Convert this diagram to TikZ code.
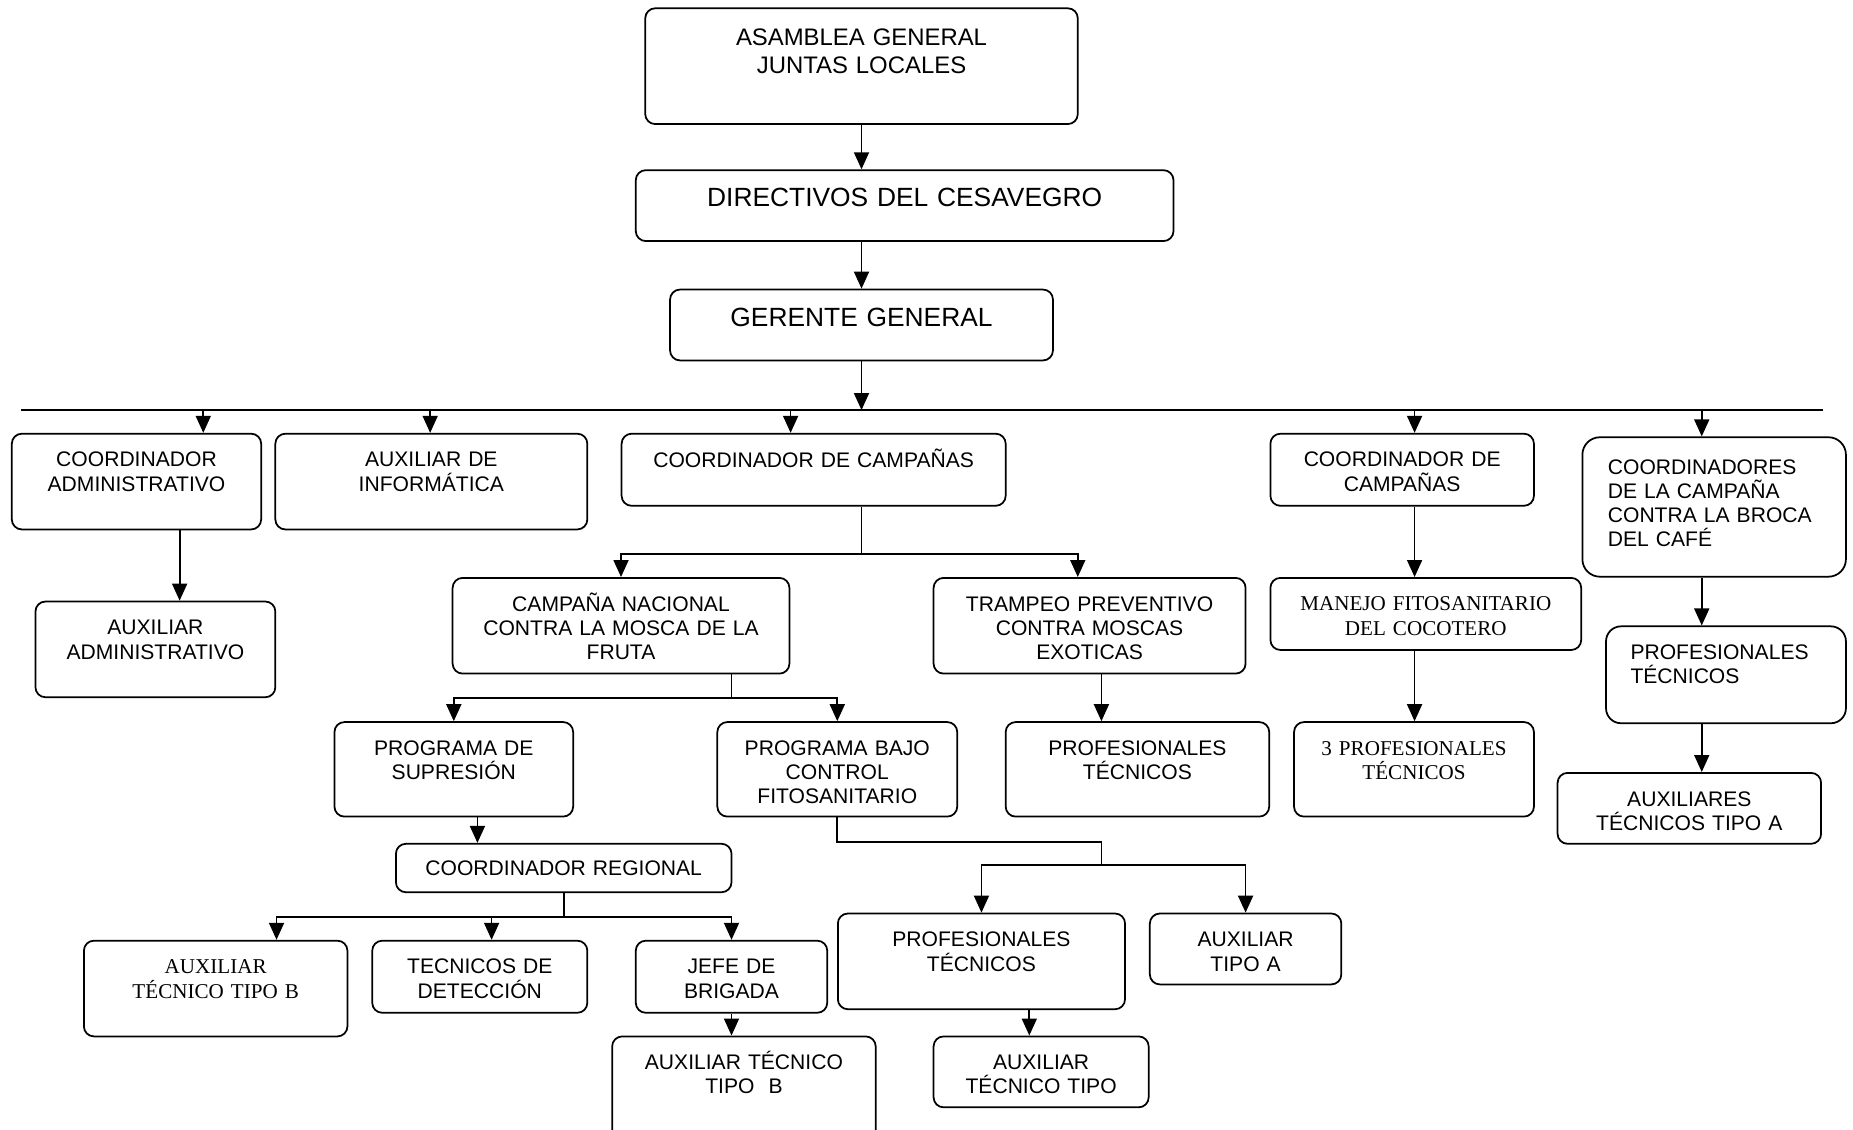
\documentclass[tikz,border=0pt]{standalone}
\usepackage{fontspec}
\setmainfont{Liberation Sans}
\newfontfamily\timesrm{Liberation Serif}
\usetikzlibrary{arrows.meta, fit}

\begin{document}
\begin{tikzpicture}[
    x=0.23636mm, y=-0.23636mm,
    box/.style={draw, line width=0.35mm, rounded corners=2mm, inner sep=0pt},
    txt/.style={anchor=north, text width=85mm, align=center, inner sep=0pt, yshift=-3.1mm,
      font=\fontsize{12}{13.8}\selectfont, execute at begin node=\vphantom{É}},
    txtl/.style={txt, anchor=north west, align=left},
    big/.style={font=\fontsize{15}{18}\selectfont, yshift=0.25mm},
    serif/.style={font=\timesrm\fontsize{12}{13.8}\selectfont},
    arrow/.style={-{Triangle[length=3.4mm, width=3mm]}, line width=0.35mm},
    link/.style={line width=0.35mm}
  ]
  \useasboundingbox (0,0) rectangle (1568,956);

  % direccion
  \node[box, fit={(546,7) (912,105)}, label={[txt, font=\fontsize{13.6}{16.1}\selectfont, yshift=-0.3mm]north:ASAMBLEA GENERAL\\JUNTAS LOCALES}] (asamblea) {};
  \node[box, fit={(538,144) (993,204)}, label={[txt, big]north:DIRECTIVOS DEL CESAVEGRO}] (directivos) {};
  \node[box, fit={(567,245) (891,305)}, label={[txt, big]north:GERENTE GENERAL}] (gerente) {};

  % primer nivel
  \node[box, fit={(10,367) (221,448)}, label={[txt]north:COORDINADOR\\ADMINISTRATIVO}] (coordadm) {};
  \node[box, fit={(233,367) (497,448)}, label={[txt]north:AUXILIAR DE\\INFORMÁTICA}] (auxinfo) {};
  \node[box, fit={(526,367) (851,428)}, label={[txt]north:COORDINADOR DE CAMPAÑAS}] (coordcamp) {};
  \node[box, fit={(1075,367) (1298,428)}, label={[txt]north:COORDINADOR DE\\CAMPAÑAS}] (coordcoco) {};
  \node[box, rounded corners=3.5mm, fit={(1339,370) (1562,488)}, label={[txtl, xshift=5.2mm, yshift=-0.7mm]north west:COORDINADORES\\DE LA CAMPAÑA\\CONTRA LA BROCA\\DEL CAFÉ}] (coordbroca) {};

  % segundo nivel
  \node[box, fit={(30,509) (233,590)}, label={[txt]north:AUXILIAR\\ADMINISTRATIVO}] (auxadm) {};
  \node[box, fit={(383,489) (668,570)}, label={[txt]north:CAMPAÑA NACIONAL\\CONTRA LA MOSCA DE LA\\FRUTA}] (mosca) {};
  \node[box, fit={(790,489) (1054,570)}, label={[txt]north:TRAMPEO PREVENTIVO\\CONTRA MOSCAS\\EXOTICAS}] (trampeo) {};
  \node[box, fit={(1075,489) (1338,550)}, label={[txt, serif]north:MANEJO FITOSANITARIO\\DEL COCOTERO}] (cocotero) {};
  \node[box, rounded corners=3mm, fit={(1359,530) (1562,612)}, label={[txtl, xshift=5mm]north west:PROFESIONALES\\TÉCNICOS}] (profbroca) {};

  % tercer nivel
  \node[box, fit={(283,611) (485,691)}, label={[txt]north:PROGRAMA DE\\SUPRESIÓN}] (supresion) {};
  \node[box, fit={(607,611) (810,691)}, label={[txt]north:PROGRAMA BAJO\\CONTROL\\FITOSANITARIO}] (control) {};
  \node[box, fit={(851,611) (1074,691)}, label={[txt]north:PROFESIONALES\\TÉCNICOS}] (proftrampeo) {};
  \node[box, fit={(1095,611) (1298,691)}, label={[txt, serif]north:3 PROFESIONALES\\TÉCNICOS}] (profcoco) {};
  \node[box, fit={(1318,654) (1541,714)}, label={[txt]north:AUXILIARES\\TÉCNICOS TIPO A}] (auxbroca) {};

  % cuarto nivel
  \node[box, fit={(335,714) (619,755)}, label={[txt, yshift=0.25mm]north:COORDINADOR REGIONAL}] (regional) {};
  \node[box, fit={(71,796) (294,877)}, label={[txt, serif]north:AUXILIAR\\TÉCNICO TIPO B}] (auxtecb) {};
  \node[box, fit={(315,796) (497,857)}, label={[txt]north:TECNICOS DE\\DETECCIÓN}] (deteccion) {};
  \node[box, fit={(538,796) (700,857)}, label={[txt]north:JEFE DE\\BRIGADA}] (jefe) {};
  \node[box, fit={(709,773) (952,854)}, label={[txt]north:PROFESIONALES\\TÉCNICOS}] (profcontrol) {};
  \node[box, fit={(973,773) (1135,833)}, label={[txt]north:AUXILIAR\\TIPO A}] (auxtipoa) {};
  \node[box, fit={(518,877) (741,990)}, label={[txt]north:AUXILIAR TÉCNICO\\TIPO\ \ B}] (auxbrigada) {};
  \node[box, fit={(790,877) (972,937)}, label={[txt]north:AUXILIAR\\TÉCNICO TIPO}] (auxtecnico) {};

  % guias verticales
  \coordinate (xs) at (729,0);
  \coordinate (xt) at (912,0);
  \coordinate (xa) at (152,0);
  \coordinate (xm) at (619,0);
  \coordinate (xp) at (932,0);
  \coordinate (xc) at (1197,0);
  \coordinate (xb) at (1440,0);
  \coordinate (xr) at (404,0);
  \coordinate (xd) at (416,0);
  \coordinate (xe) at (234,0);
  \coordinate (xn) at (871,0);
  \coordinate (busL) at (18,347);
  \coordinate (busR) at (1543,347);
  \coordinate (jc) at (932,732);

  % linea central
  \draw[arrow] (asamblea.south) -- (asamblea.south |- directivos.north);
  \draw[arrow] (gerente.north |- directivos.south) -- (gerente.north);
  \draw[arrow] (gerente.south) -- (gerente.south |- busL);
  \draw[link] (busL) -- (busR);
  \foreach \x/\n in {172/coordadm, 364/auxinfo, 669/coordcamp, 1197/coordcoco, 1440/coordbroca}{
    \coordinate (d) at (\x,347);
    \draw[arrow] (d) -- (d |- \n.north);
  }

  % ramas
  \draw[arrow] (xa |- coordadm.south) -- (xa |- auxadm.north);
  \draw[arrow] (xs |- coordcamp.south) -- ++(0,40) -| (mosca.north);
  \draw[arrow] (xs |- coordcamp.south) ++(0,40) -| (xt |- trampeo.north);
  \draw[arrow] (xm |- mosca.south) -- ++(0,20) -| (supresion.north);
  \draw[arrow] (xm |- mosca.south) ++(0,20) -| (control.north);
  \draw[arrow] (xp |- trampeo.south) -- (xp |- proftrampeo.north);
  \draw[arrow] (xc |- coordcoco.south) -- (xc |- cocotero.north);
  \draw[arrow] (xc |- cocotero.south) -- (xc |- profcoco.north);
  \draw[arrow] (xb |- coordbroca.south) -- (xb |- profbroca.north);
  \draw[arrow] (xb |- profbroca.south) -- (xb |- auxbroca.north);
  \draw[arrow] (xr |- supresion.south) -- (xr |- regional.north);
  \draw[link] (control.south) -- ++(0,21) -| (jc);
  \draw[arrow] (jc) -| (profcontrol.north);
  \draw[arrow] (jc) -| (auxtipoa.north);
  \draw[arrow] (regional.south) -- ++(0,20) -| (jefe.north);
  \draw[arrow] (regional.south) ++(0,20) -| (xd |- deteccion.north);
  \draw[arrow] (regional.south) ++(0,20) -| (xe |- auxtecb.north);
  \draw[arrow] (jefe.south) -- (jefe.south |- auxbrigada.north);
  \draw[arrow] (xn |- profcontrol.south) -- (xn |- auxtecnico.north);
\end{tikzpicture}
\end{document}
